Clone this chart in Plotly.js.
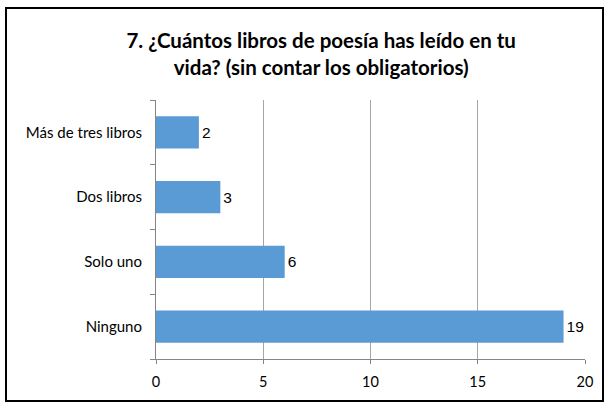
<!DOCTYPE html>
<html>
<head>
<meta charset="utf-8">
<script src="https://cdn.plot.ly/plotly-3.0.1.min.js"></script>
<style>
html,body{margin:0;padding:0;background:#fff;}
#wrap{position:relative;width:606px;height:402px;}
#chart{position:absolute;left:0;top:0;width:606px;height:402px;}
#frame{position:absolute;left:5px;top:7px;width:595px;height:391px;border:2px solid #000;pointer-events:none;}
</style>
</head>
<body>
<div id="wrap"><div id="chart"></div><div id="frame"></div></div>
<script>
const categories = ["Ninguno", "Solo uno", "Dos libros", "Más de tres libros"];
const values = [19, 6, 3, 2];
const xTicks = [0, 5, 10, 15, 20];

const trace = {
  type: 'bar',
  orientation: 'h',
  y: categories,
  x: values,
  text: values.map(String),
  textposition: 'outside',
  cliponaxis: false,
  textfont: {family: 'Liberation Sans, Arial, sans-serif', size: 15.5, color: '#000'},
  marker: {color: '#5B9BD5'},
  width: 0.5,
  hoverinfo: 'none'
};

const layout = {
  width: 606, height: 402,
  margin: {l: 156, r: 21, t: 100, b: 43},
  paper_bgcolor: '#fff', plot_bgcolor: '#fff',
  font: {family: 'Lato, Calibri, sans-serif', size: 15, color: '#000'},
  title: {
    text: '<b>7. ¿Cuántos libros de poesía has leído en tu<br>vida? (sin contar los obligatorios)</b>',
    font: {family: 'Lato, Calibri, sans-serif', size: 20.5, color: '#000'},
    x: 0.53, xanchor: 'center', y: 0.88, yanchor: 'middle'
  },
  xaxis: {
    range: [0, 20],
    tickvals: xTicks,
    ticktext: xTicks.map(String),
    showgrid: true, gridcolor: '#A6A6A6', gridwidth: 1,
    showline: true, linecolor: '#868686', linewidth: 1,
    ticks: 'outside', ticklen: 4, tickcolor: '#868686',
    zeroline: false,
    ticklabelstandoff: 6,
    tickfont: {size: 14.5}
  },
  yaxis: {
    type: 'category',
    categoryorder: 'array', categoryarray: categories,
    showline: true, linecolor: '#868686', linewidth: 1,
    ticks: 'outside', ticklen: 5, tickcolor: '#868686',
    tickson: 'boundaries',
    showgrid: false, zeroline: false,
    ticklabelstandoff: 10,
    tickfont: {size: 15}
  },
  bargap: 0.5,
  showlegend: false
};

Plotly.newPlot('chart', [trace], layout, {displayModeBar: false, staticPlot: true});
</script>
</body>
</html>
